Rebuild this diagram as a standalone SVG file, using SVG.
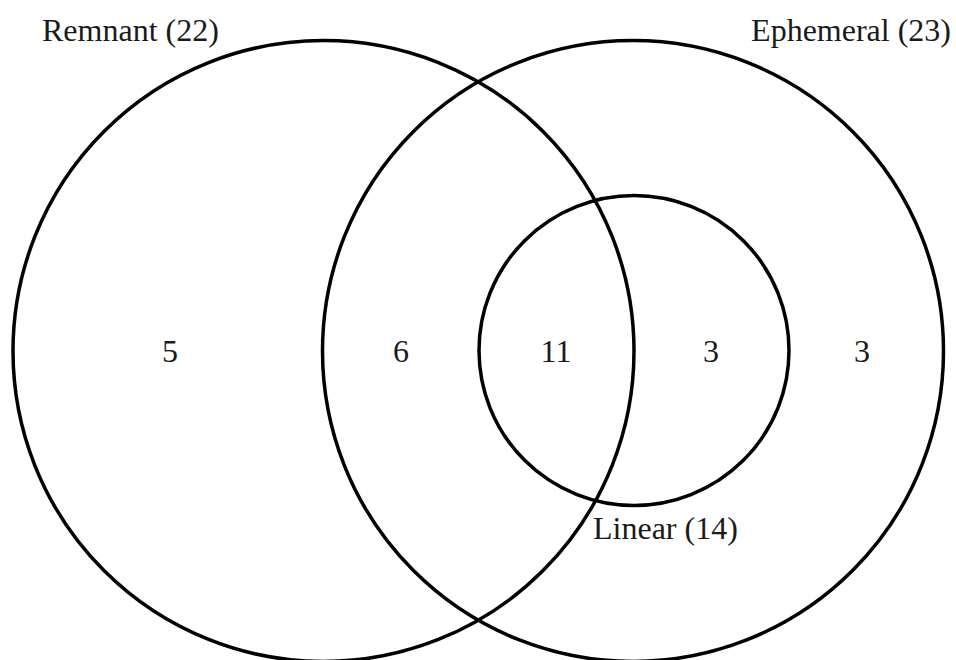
<svg xmlns="http://www.w3.org/2000/svg" width="956" height="660" viewBox="0 0 956 660">
<style>
.c{fill:none;stroke:#000;stroke-width:3.5}
.t{font-family:"Liberation Serif","Times New Roman",serif;font-size:32px;fill:#1a1a1a}
.m{text-anchor:middle}
</style>
<rect width="956" height="660" fill="#fff"/>
<g id="remnant">
<circle class="c" cx="323.5" cy="351" r="310.5"/>
<text class="t" x="42" y="41">Remnant (22)</text>
</g>
<g id="ephemeral">
<circle class="c" cx="633" cy="351" r="310.5"/>
<text class="t" x="951" y="41" text-anchor="end">Ephemeral (23)</text>
</g>
<g id="linear">
<circle class="c" cx="634" cy="350.5" r="155"/>
<text class="t" x="593" y="539">Linear (14)</text>
</g>
<g id="counts">
<text class="t m" x="170" y="362">5</text>
<text class="t m" x="401" y="362">6</text>
<text class="t m" x="556" y="362">11</text>
<text class="t m" x="711" y="362">3</text>
<text class="t m" x="862" y="362">3</text>
</g>
</svg>
